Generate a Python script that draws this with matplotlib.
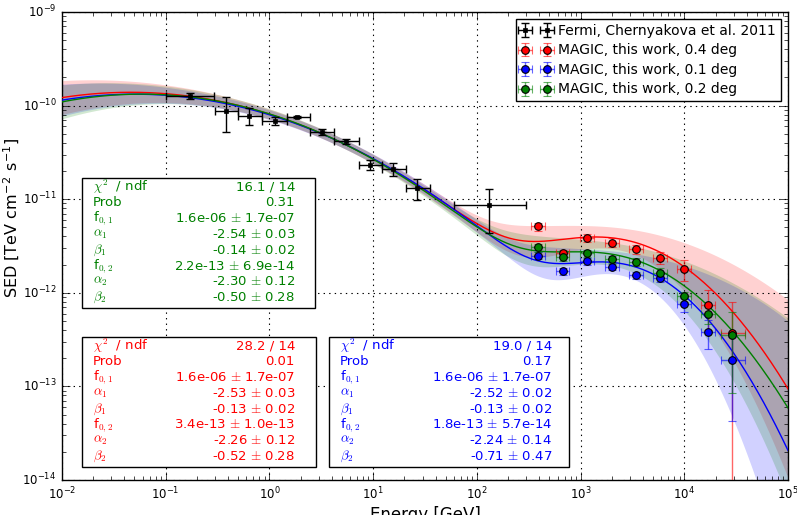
import numpy as np
import matplotlib
matplotlib.use("Agg")
import matplotlib.pyplot as plt
from matplotlib.patches import Rectangle

# ---------------- data ----------------
fermi_E = [0.17, 0.38, 0.64, 1.12, 1.86, 3.2, 5.46, 9.3, 15.7, 26.5, 130.0]
fermi_lo = [0.10, 0.30, 0.50, 0.85, 1.48, 2.46, 4.2, 7.3, 12.2, 20.7, 60.0]
fermi_hi = [0.29, 0.50, 0.85, 1.48, 2.46, 4.2, 7.3, 12.2, 20.7, 35.0, 295.0]
fermi_sed = [1.27e-10, 8.75e-11, 7.8e-11, 6.85e-11, 7.55e-11, 5.2e-11, 4.16e-11,
             2.34e-11, 2.09e-11, 1.31e-11, 8.6e-12]
fermi_err = [0.08e-10, 3.5e-11, 1.65e-11, 0.7e-11, 0.25e-11, 0.38e-11, 0.27e-11,
             0.29e-11, 0.33e-11, 0.34e-11, 4.2e-12]

magic_E = [390, 670, 1160, 2000, 3400, 5840, 9930, 16800, 29000]
magic_lo = [335, 575, 995, 1720, 2920, 5010, 8520, 14400, 22500]
magic_hi = [455, 780, 1350, 2330, 3960, 6800, 11600, 19600, 38400]

red_sed = [5.13e-12, 2.68e-12, 3.88e-12, 3.43e-12, 2.91e-12, 2.37e-12, 1.78e-12, 7.34e-13, 3.75e-13]
red_err = [0.5e-12, 0.18e-12, 0.4e-12, 0.38e-12, 0.32e-12, 0.33e-12, 0.45e-12, 0.33e-12, 4.3e-13]
blue_sed = [2.5e-12, 1.71e-12, 2.17e-12, 1.89e-12, 1.54e-12, 1.43e-12, 7.59e-13, 3.79e-13, 1.9e-13]
blue_err = [0.2e-12, 0.15e-12, 0.18e-12, 0.15e-12, 0.14e-12, 0.14e-12, 1.3e-13, 1.3e-13, 1.47e-13]
green_sed = [3.06e-12, 2.39e-12, 2.64e-12, 2.28e-12, 2.15e-12, 1.64e-12, 9.16e-13, 5.93e-13, 3.54e-13]
green_err = [0.3e-12, 0.2e-12, 0.22e-12, 0.2e-12, 0.2e-12, 0.2e-12, 1.1e-13, 1.3e-13, 2.7e-13]

# fit results (from the stat boxes):
# chi2, ndf, prob, f01, ef01, a1, ea1, b1, eb1, f02, ef02, a2, ea2, b2, eb2
fit_red = [28.2, 14, 0.01, 1.6e-06, 1.7e-07, -2.53, 0.03, -0.13, 0.02, 3.4e-13, 1.0e-13, -2.26, 0.12, -0.52, 0.28]
fit_blue = [19.0, 14, 0.17, 1.6e-06, 1.7e-07, -2.52, 0.02, -0.13, 0.02, 1.8e-13, 5.7e-14, -2.24, 0.14, -0.71, 0.47]
fit_green = [16.1, 14, 0.31, 1.6e-06, 1.7e-07, -2.54, 0.03, -0.14, 0.02, 2.2e-13, 6.9e-14, -2.30, 0.12, -0.50, 0.28]

E01_TeV = 0.005
E02_TeV = 3.16

RED = '#ff0000'
BLUE = '#0000ff'
GREEN = '#008000'

plt.style.use('classic')
plt.rcParams['mathtext.fontset'] = 'cm'
plt.rcParams['font.family'] = ['DejaVu Sans']

fig = plt.figure(figsize=(7.97, 5.15), dpi=100, facecolor='white')
W, H = 797.0, 515.0
ax = fig.add_axes([62 / W, 35 / H, 726 / W, 468 / H])
ax.set_xscale('log')
ax.set_yscale('log')
ax.set_xlim(1e-2, 1e5)
ax.set_ylim(1e-14, 1e-9)


def model(Egev, p):
    E = Egev / 1000.0
    f01, a1, b1, f02, a2, b2 = p[3], p[5], p[7], p[9], p[11], p[13]
    u1 = np.log10(E / E01_TeV)
    u2 = np.log10(E / E02_TeV)
    c1 = E ** 2 * f01 * (E / E01_TeV) ** (a1 + b1 * u1)
    c2 = E ** 2 * f02 * (E / E02_TeV) ** (a2 + b2 * u2)
    tot = c1 + c2
    w1 = c1 / tot
    w2 = c2 / tot
    j1 = [w1 * p[4] / (f01 * np.log(10)), w1 * u1 * p[6], w1 * u1 ** 2 * p[8]]
    j2 = [w2 * p[10] / (f02 * np.log(10)), w2 * u2 * p[12], w2 * u2 ** 2 * p[14]]
    var = j1[0] ** 2 + j1[1] ** 2 + j1[2] ** 2
    var = var + j2[0] ** 2 + j2[1] ** 2 + j2[2] ** 2
    rho = 0.9
    var = var + 2 * rho * (j2[0] * j2[1] + j2[0] * j2[2] + j2[1] * j2[2])
    sig = 1.05 * np.sqrt(np.clip(var, 0, None))
    return tot, tot * 10 ** sig, tot / 10 ** sig


Eg = np.logspace(-2, 5, 600)
series = [(fit_red, RED), (fit_blue, BLUE), (fit_green, GREEN)]
for p, c in series:
    tot, up, lo = model(Eg, p)
    ax.fill_between(Eg, lo, up, color=c, alpha=0.18, lw=0, zorder=1)
for p, c in series:
    tot, up, lo = model(Eg, p)
    ax.plot(Eg, tot, color=c, lw=1.0, zorder=3)

ax.grid(True, which='major', linestyle=':', color='k', lw=0.8)
ax.set_axisbelow(False)

fE = np.array(fermi_E)
ax.errorbar(fE, fermi_sed, yerr=fermi_err,
            xerr=[fE - np.array(fermi_lo), np.array(fermi_hi) - fE],
            fmt='s', color='k', ms=2.5, mec='k', ecolor='k', elinewidth=1.0,
            capsize=3, capthick=1.0, zorder=5,
            label='Fermi, Chernyakova et al. 2011')

mE = np.array(magic_E)
mxerr = [mE - np.array(magic_lo), np.array(magic_hi) - mE]
for vals, errs, c, lab in [(red_sed, red_err, RED, 'MAGIC, this work, 0.4 deg'),
                           (blue_sed, blue_err, BLUE, 'MAGIC, this work, 0.1 deg'),
                           (green_sed, green_err, GREEN, 'MAGIC, this work, 0.2 deg')]:
    eb = ax.errorbar(mE, vals, yerr=errs, xerr=mxerr, fmt='o', color=c, mfc=c,
                     mec='k', mew=0.8, ms=5.5, ecolor=c, elinewidth=1.0,
                     capsize=3, capthick=1.0, zorder=6, label=lab)
    for art in eb[1] + eb[2]:
        art.set_alpha(0.6)

leg = ax.legend(loc='upper right', numpoints=2, fontsize=10, fancybox=False,
                framealpha=1, borderaxespad=0.5, handlelength=2.2,
                handletextpad=0.5, borderpad=0.35, labelspacing=0.4)
leg.get_frame().set_edgecolor('k')
leg.set_zorder(10)

ax.tick_params(which='both', direction='in', top=True, right=True, labelsize=8.5)
ax.tick_params(which='major', length=6)
ax.tick_params(which='minor', length=3)

ax.set_ylabel('SED [TeV cm$^{\\mathdefault{-2}}$ s$^{\\mathdefault{-1}}$]', fontsize=11.5)
ax.yaxis.set_label_coords(-0.057, 0.56)
ax.set_xlabel('Energy [GeV]', fontsize=12)
ax.xaxis.set_label_coords(0.5, -0.055)


def px(x, y):
    return x / W, 1 - y / H


def stat_box(p, c, x0, y0, x1, y1, xl, xr):
    fx0, fy1 = px(x0, y1)
    fx1, fy0 = px(x1, y0)
    fig.patches.append(Rectangle((fx0, fy1), fx1 - fx0, fy0 - fy1, transform=fig.transFigure,
                                 facecolor='white', edgecolor='k', lw=1.0, zorder=20))
    labels = ['$\\chi^2$  / ndf', 'Prob', 'f$_{0,1}$', '$\\alpha_1$', '$\\beta_1$',
              'f$_{0,2}$', '$\\alpha_2$', '$\\beta_2$']
    values = ['%.1f / %d' % (p[0], p[1]),
              '%.2f' % p[2],
              '%.1e $\\pm$ %.1e' % (p[3], p[4]),
              '%.2f $\\pm$ %.2f' % (p[5], p[6]),
              '%.2f $\\pm$ %.2f' % (p[7], p[8]),
              '%.1e $\\pm$ %.1e' % (p[9], p[10]),
              '%.2f $\\pm$ %.2f' % (p[11], p[12]),
              '%.2f $\\pm$ %.2f' % (p[13], p[14])]
    for i, (l, v) in enumerate(zip(labels, values)):
        yy = y0 + 9 + i * 15.8
        fig.text(*px(xl, yy), l, color=c, fontsize=9.5, ha='left', va='center', zorder=21)
        fig.text(*px(xr, yy), v, color=c, fontsize=9.5, ha='right', va='center', zorder=21)


stat_box(fit_green, GREEN, 82, 178, 315, 308, 93, 295)
stat_box(fit_red, RED, 82, 337, 316, 467, 93, 295)
stat_box(fit_blue, BLUE, 329, 337, 569, 467, 340, 552)

fig.savefig('out.png', dpi=100, facecolor='white')
